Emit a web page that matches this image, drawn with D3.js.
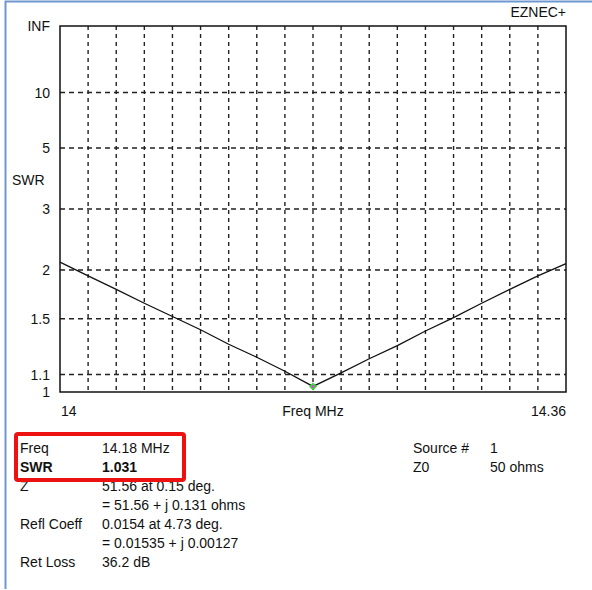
<!DOCTYPE html>
<html>
<head>
<meta charset="utf-8">
<script src="https://cdn.jsdelivr.net/npm/d3@7"></script>
<style>
  body { margin: 0; background: #fff; }
  text { font-family: "Liberation Sans", Arial, sans-serif; font-size: 14px; fill: #111; }
</style>
</head>
<body>
<div id="chart"></div>
<script>
// sweep, 0.02 MHz steps
const freqs = [14.00, 14.02, 14.04, 14.06, 14.08, 14.10, 14.12, 14.14, 14.16, 14.18,
               14.20, 14.22, 14.24, 14.26, 14.28, 14.30, 14.32, 14.34, 14.36];
const swrValues = [2.10, 1.93, 1.78, 1.64, 1.52, 1.41, 1.30, 1.21, 1.12, 1.031,
                   1.11, 1.20, 1.29, 1.40, 1.51, 1.64, 1.78, 1.93, 2.08];
const swrTicks = [1.1, 1.5, 2, 3, 5, 10];
const swrTickLabels = ['1', '1.1', '1.5', '2', '3', '5', '10', 'INF'];
const freqGrid = d3.range(1, 18).map(i => 14 + i * 0.02);

const infoLabels = ['Freq', 'SWR', 'Z', '', 'Refl Coeff', '', 'Ret Loss'];
const infoValues = ['14.18 MHz', '1.031', '51.56 at 0.15 deg.', '= 51.56 + j 0.131 ohms',
                    '0.0154 at 4.73 deg.', '= 0.01535 + j 0.00127', '36.2 dB'];
const srcLabels = ['Source #', 'Z0'];
const srcValues = ['1', '50 ohms'];

const width = 592;
const height = 590;
const plot = { left: 60, right: 566, top: 26, bottom: 392 };

const svg = d3.select('#chart').append('svg')
  .attr('width', width)
  .attr('height', height);

// window border
svg.append('path')
  .attr('d', `M${width},1.5 H5.5 V589`)
  .attr('fill', 'none')
  .attr('stroke', '#6f97cf')
  .attr('stroke-width', 2);

const x = d3.scaleLinear().domain([14, 14.36]).range([plot.left, plot.right]);
// EZNEC swr scale is linear in reflection coefficient
const rho = s => (s - 1) / (s + 1);
const yRho = d3.scaleLinear().domain([0, 1]).range([plot.bottom, plot.top]);
const y = s => yRho(rho(s));

const grid = svg.append('g');
grid.selectAll('.vgrid')
  .data(freqGrid)
  .enter()
  .append('line')
  .attr('x1', d => x(d)).attr('x2', d => x(d))
  .attr('y1', plot.top).attr('y2', plot.bottom)
  .attr('stroke', '#222')
  .attr('stroke-width', 1.4)
  .attr('stroke-dasharray', '4,4');

grid.selectAll('.hgrid')
  .data(swrTicks)
  .enter()
  .append('line')
  .attr('x1', plot.left).attr('x2', plot.right)
  .attr('y1', d => y(d)).attr('y2', d => y(d))
  .attr('stroke', '#222')
  .attr('stroke-width', 1.4)
  .attr('stroke-dasharray', '5,4');

svg.append('rect')
  .attr('x', plot.left).attr('y', plot.top)
  .attr('width', plot.right - plot.left)
  .attr('height', plot.bottom - plot.top)
  .attr('fill', 'none')
  .attr('stroke', '#111')
  .attr('stroke-width', 1.5);

// y labels
const tickPos = [plot.bottom].concat(swrTicks.map(y)).concat([plot.top]);
svg.selectAll('.ylab')
  .data(swrTickLabels)
  .enter()
  .append('text')
  .attr('x', 50)
  .attr('y', (d, i) => tickPos[i])
  .attr('dy', '0.36em')
  .attr('text-anchor', 'end')
  .text(d => d);

svg.append('text').attr('x', 12).attr('y', 185).text('SWR');
svg.append('text').attr('x', 566).attr('y', 17).attr('text-anchor', 'end').text('EZNEC+');

svg.append('text').attr('x', 61).attr('y', 416).text('14');
svg.append('text').attr('x', x(14.18)).attr('y', 416).attr('text-anchor', 'middle').text('Freq MHz');
svg.append('text').attr('x', 566).attr('y', 416).attr('text-anchor', 'end').text('14.36');

// swr curve
const line = d3.line()
  .x((d, i) => x(freqs[i]))
  .y(d => y(d));

svg.append('path')
  .datum(swrValues)
  .attr('d', line)
  .attr('fill', 'none')
  .attr('stroke', '#111')
  .attr('stroke-width', 1.3);

// cursor at minimum
const minIdx = d3.minIndex(swrValues);
const cx = x(freqs[minIdx]), cy = y(swrValues[minIdx]);
svg.append('path')
  .attr('d', `M${cx - 4},${cy} L${cx},${cy - 4} L${cx + 4},${cy} L${cx},${cy + 4} Z`)
  .attr('fill', '#33dd33');
svg.append('circle')
  .attr('cx', cx).attr('cy', cy).attr('r', 1.5)
  .attr('fill', '#e040e0');

// info block
const rowY = i => 453 + i * 19;
const info = svg.append('g');
info.selectAll('.lab')
  .data(infoLabels)
  .enter()
  .append('text')
  .attr('x', 20)
  .attr('y', (d, i) => rowY(i))
  .attr('font-weight', (d, i) => i === 1 ? 'bold' : null)
  .text(d => d);

info.selectAll('.val')
  .data(infoValues)
  .enter()
  .append('text')
  .attr('x', 102)
  .attr('y', (d, i) => rowY(i))
  .attr('font-weight', (d, i) => i === 1 ? 'bold' : null)
  .text(d => d);

info.selectAll('.slab')
  .data(srcLabels)
  .enter()
  .append('text')
  .attr('x', 413)
  .attr('y', (d, i) => rowY(i))
  .text(d => d);

info.selectAll('.sval')
  .data(srcValues)
  .enter()
  .append('text')
  .attr('x', 490)
  .attr('y', (d, i) => rowY(i))
  .text(d => d);

// red highlight box
svg.append('rect')
  .attr('x', 16).attr('y', 434)
  .attr('width', 168).attr('height', 46)
  .attr('rx', 2)
  .attr('fill', 'none')
  .attr('stroke', '#ee1111')
  .attr('stroke-width', 4);
</script>
</body>
</html>
